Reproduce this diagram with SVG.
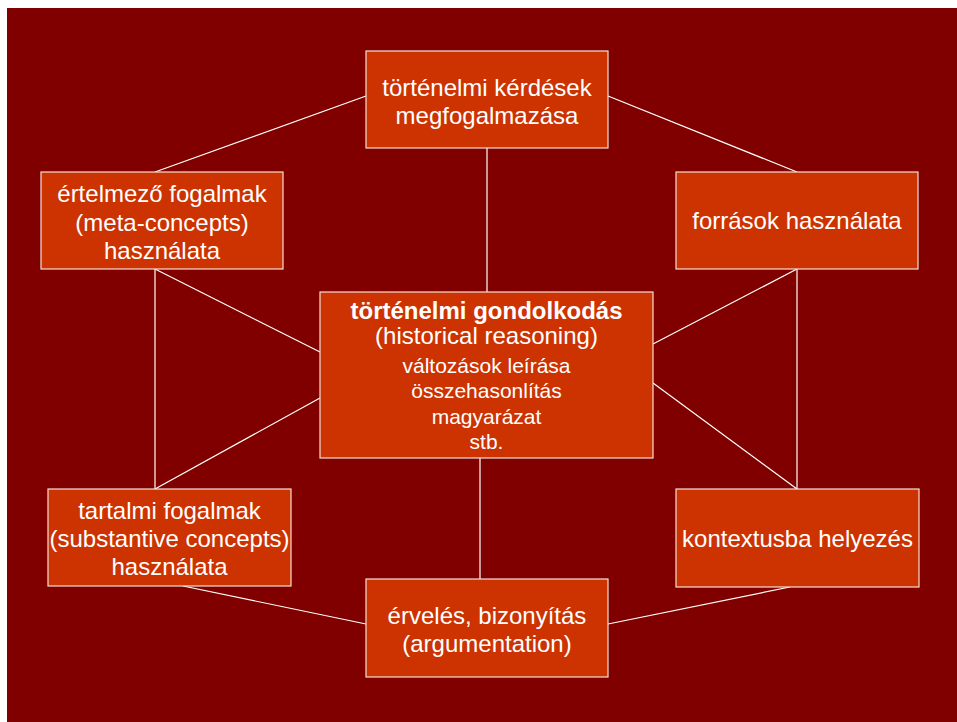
<svg xmlns="http://www.w3.org/2000/svg" width="957" height="722" viewBox="0 0 957 722">
<style>
.box{fill:#CC3300;stroke:#F2E0D8;stroke-width:1.2}
.t{font-family:"Liberation Sans",Arial,sans-serif;font-size:24px;fill:#FFFFFF;text-anchor:middle}
.s{font-size:21px}
.b{font-weight:bold}
.c{stroke:#FFFFFF;stroke-width:1.2;fill:none}
</style>
<rect x="0" y="0" width="957" height="722" fill="#FFFFFF"/>
<rect x="7" y="8" width="950" height="714" fill="#800000"/>
<g id="connectors" class="c">
<line x1="366" y1="96" x2="155" y2="172"/>
<line x1="608" y1="96" x2="797" y2="172"/>
<line x1="487" y1="148" x2="487" y2="292"/>
<line x1="155" y1="269" x2="155" y2="489"/>
<line x1="155" y1="269" x2="320" y2="352"/>
<line x1="320" y1="398" x2="155" y2="489"/>
<line x1="797" y1="269" x2="797" y2="489"/>
<line x1="797" y1="269" x2="653" y2="344"/>
<line x1="653" y1="383" x2="797" y2="489"/>
<line x1="480" y1="458" x2="480" y2="579"/>
<line x1="183" y1="586" x2="366" y2="624"/>
<line x1="608" y1="624" x2="790" y2="587"/>
</g>
<g id="node-top">
<rect class="box" x="366" y="51" width="242" height="97"/>
<text class="t" x="487" y="96">történelmi kérdések</text>
<text class="t" x="487" y="124">megfogalmazása</text>
</g>
<g id="node-meta">
<rect class="box" x="41" y="172" width="242" height="97"/>
<text class="t" x="162" y="202">értelmező fogalmak</text>
<text class="t" x="162" y="231">(meta-concepts)</text>
<text class="t" x="162" y="259">használata</text>
</g>
<g id="node-sources">
<rect class="box" x="676" y="172" width="242" height="97"/>
<text class="t" x="797" y="228.5">források használata</text>
</g>
<g id="node-center">
<rect class="box" x="320" y="292" width="333" height="166"/>
<text class="t b" x="486.5" y="318.5">történelmi gondolkodás</text>
<text class="t" x="486.5" y="344">(historical reasoning)</text>
<text class="t s" x="486.5" y="372.5">változások leírása</text>
<text class="t s" x="486.5" y="398">összehasonlítás</text>
<text class="t s" x="486.5" y="423.5">magyarázat</text>
<text class="t s" x="486.5" y="449">stb.</text>
</g>
<g id="node-substantive">
<rect class="box" x="48" y="489" width="243" height="97"/>
<text class="t" x="169.5" y="518.5">tartalmi fogalmak</text>
<text class="t" x="169.5" y="547">(substantive concepts)</text>
<text class="t" x="169.5" y="575">használata</text>
</g>
<g id="node-context">
<rect class="box" x="676" y="489" width="243" height="98"/>
<text class="t" x="797.5" y="547">kontextusba helyezés</text>
</g>
<g id="node-argument">
<rect class="box" x="366" y="579" width="242" height="98"/>
<text class="t" x="487" y="623.5">érvelés, bizonyítás</text>
<text class="t" x="487" y="652">(argumentation)</text>
</g>
</svg>
